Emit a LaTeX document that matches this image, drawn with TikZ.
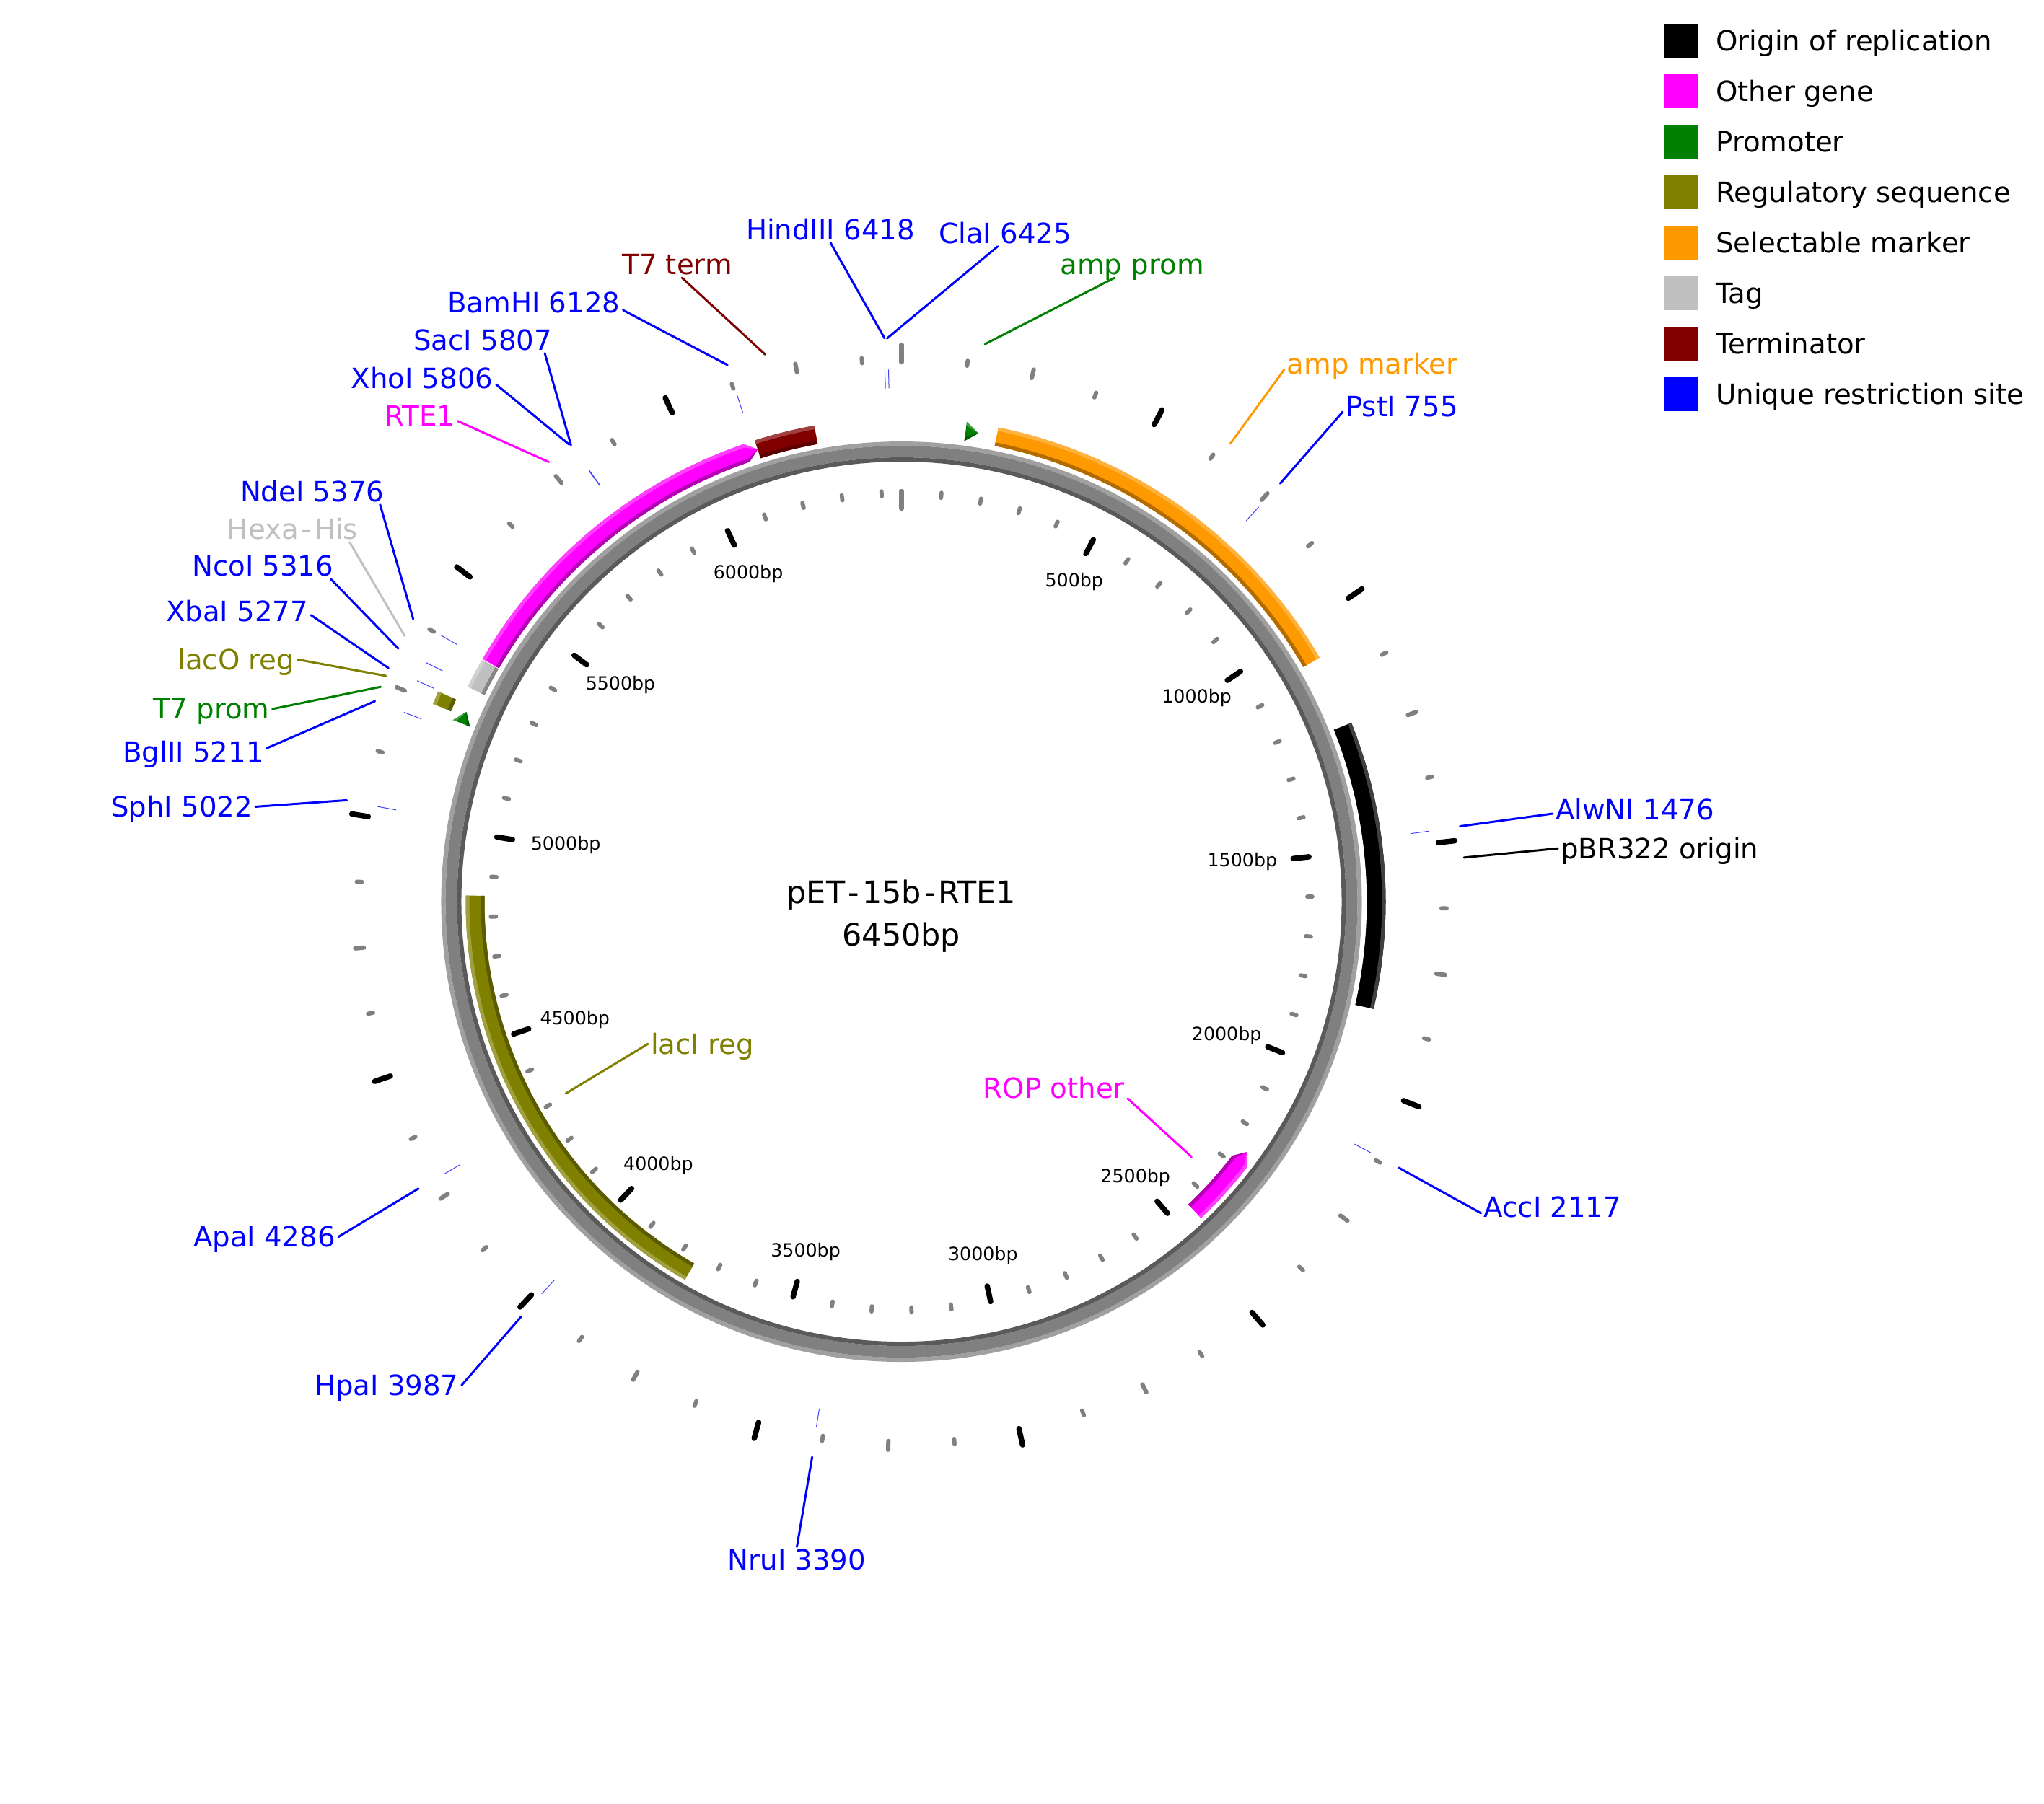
\documentclass[tikz,border=0pt]{standalone}
\usepackage{fontspec}
\setmainfont{DejaVu Sans}
\definecolor{promgreen}{HTML}{008000}
\definecolor{markorange}{HTML}{FF9900}
\definecolor{termred}{HTML}{800000}
\definecolor{taggray}{HTML}{C0C0C0}
\definecolor{ringgray}{HTML}{808080}
\definecolor{genemagenta}{HTML}{FF00FF}
\definecolor{regolive}{HTML}{808000}
\definecolor{siteblue}{HTML}{0000FF}

\newcommand{\bpangle}[2]{\pgfmathsetmacro#1{90-(#2)/6450*360}}
\newcommand{\feature}[6]{%
\bpangle{\angA}{#1}\bpangle{\angB}{#2}\bpangle{\angT}{#3}%
\pgfmathsetmacro\rmid{(#4+#5)/2}%
\fill[#6] (\angA:#5) arc[start angle=\angA,end angle=\angB,radius=#5] -- (\angT:\rmid) -- (\angB:#4) arc[start angle=\angB,end angle=\angA,radius=#4] -- cycle;
\fill[#6!75!white] (\angA:#5) arc[start angle=\angA,end angle=\angB,radius=#5] -- (\angT:\rmid) -- (\angB:#5-5) arc[start angle=\angB,end angle=\angA,radius=#5-5] -- cycle;
\fill[#6!70!black] (\angA:#4) arc[start angle=\angA,end angle=\angB,radius=#4] -- (\angT:\rmid) -- (\angB:#4+5) arc[start angle=\angB,end angle=\angA,radius=#4+5] -- cycle;
}

\begin{document}
\begin{tikzpicture}[x=.18068mm,y=-.18068mm,
lab/.style={inner sep=1pt,anchor=west,text height=8pt,text depth=0pt,font=\fontsize{11}{13}\selectfont},
ticklab/.style={inner sep=0pt,yshift=-.25mm,font=\fontsize{7.2}{9}\selectfont},
title/.style={inner sep=1pt,yshift=-.45mm,font=\fontsize{12.2}{15}\selectfont},
swatch/.style={inner sep=0pt,minimum size=4.7mm},
lead/.style={line width=.3mm,line cap=round},
sitemark/.style={line width=.1mm,siteblue!75!white},
shorttick/.style={line width=.58mm,line cap=round,ringgray},
midtick/.style={line width=.6mm,line cap=round,ringgray},
bigtick/.style={line width=.75mm,line cap=round,black}]

\useasboundingbox (0,0) rectangle (1567.96,1383.66);

\begin{scope}[shift={(691.55,691.85)},x=.1mm,y=.1mm]
\fill[ringgray!75!white,even odd rule] (0,0) circle[radius=638] circle[radius=632];
\fill[ringgray,even odd rule] (0,0) circle[radius=632] circle[radius=616];
\fill[ringgray!70!black,even odd rule] (0,0) circle[radius=616] circle[radius=610];

\foreach \k in {0,500,...,6000} \foreach \d in {100,200,300,400} {
  \bpangle{\tang}{\k+\d}
  \draw[shorttick] (\tang:562.5) -- (\tang:569.5);
}
\foreach \b in {500,1000,...,6000} {
  \bpangle{\tang}{\b}
  \draw[bigtick] (\tang:546) -- (\tang:568);
  \draw[bigtick] (\tang:748.5) -- (\tang:771.5);
}
\foreach \b in {125,375,...,6375} {
  \bpangle{\tang}{\b}
  \draw[shorttick] (\tang:748.5) -- (\tang:755.5);
}
\foreach \b in {250,750,...,6250} {
  \bpangle{\tang}{\b}
  \draw[midtick] (\tang:748) -- (\tang:760);
}
\draw[midtick,line width=.65mm] (90:545) -- (90:569);
\draw[midtick,line width=.65mm] (90:748) -- (90:772);

\foreach \b in {755,1476,2117,3390,3987,4286,5022,5211,5277,5316,5376,5806,5807,6128,6418,6425} {
  \bpangle{\tang}{\b}
  \draw[sitemark] (\tang:712) -- (\tang:738);
}

\feature{207}{1070}{1070}{645}{671}{markorange}
\feature{1224}{1842}{1842}{645}{671}{black}
\feature{2447}{2285}{2257}{578}{604}{genemagenta}
\feature{4852}{3759}{3759}{578}{604}{regolive}
\feature{5248}{5275}{5275}{678}{705}{regolive}
\feature{5310}{5375}{5375}{645}{671}{taggray}
\feature{5377}{6109}{6134}{645}{671}{genemagenta}
\feature{6134}{6264}{6264}{645}{671}{termred}
\feature{5233}{5232}{5260}{645}{671}{promgreen}
\feature{139}{140}{167}{645}{671}{promgreen}
\end{scope}

\foreach \b/\x/\y in {500/824/445,1000/918/534,1500/953/660,2000/941/793,2500/871/902,3000/754/962,3500/618/959,4000/505/893,4500/441/781,5000/434/647,5500/476/524,6000/574/439}
  \draw (\x,\y) node[ticklab] (tick\b) {\b bp};

\draw (691.5,684) node[title] (plasmidname) {pET\kern1.2pt-\kern1.2pt15b\kern1.2pt-\kern1.2ptRTE1};
\draw (691.5,717) node[title] (plasmidsize) {6450bp};

\foreach \i/\c/\t in {0/black/Origin of replication,1/genemagenta/Other gene,2/promgreen/Promoter,3/regolive/Regulatory sequence,4/markorange/Selectable marker,5/taggray/Tag,6/termred/Terminator,7/siteblue/Unique restriction site} {
  \pgfmathsetmacro\ky{31.4+38.7*\i}
  \draw (1290,\ky) node[swatch,fill=\c] (key\i) {};
  \draw (1314,\ky) node[lab] (keytext\i) {\t};
}

\draw (570,176) node[lab,siteblue] (HindIII) {HindIII 6418};
\draw (718,179) node[lab,siteblue] (ClaI) {ClaI 6425};
\draw (811,203) node[lab,promgreen] (ampprom) {amp prom};
\draw (475,203) node[lab,termred] (T7term) {T7 term};
\draw (341,232) node[lab,siteblue] (BamHI) {BamHI 6128};
\draw (315,261) node[lab,siteblue] (SacI) {SacI 5807};
\draw (267,290) node[lab,siteblue] (XhoI) {XhoI 5806};
\draw (293,319) node[lab,genemagenta] (RTE) {RTE1};
\draw (182,377) node[lab,siteblue] (NdeI) {NdeI 5376};
\draw (172,406) node[lab,taggray] (HexaHis) {Hexa\kern1.2pt-\kern1.2ptHis};
\draw (145,434) node[lab,siteblue] (NcoI) {NcoI 5316};
\draw (125,469) node[lab,siteblue] (XbaI) {XbaI 5277};
\draw (134,506) node[lab,regolive] (lacO) {lacO reg};
\draw (115,544) node[lab,promgreen] (T7prom) {T7 prom};
\draw (92,577) node[lab,siteblue] (BglII) {BglII 5211};
\draw (83,619) node[lab,siteblue] (SphI) {SphI 5022};
\draw (146,949) node[lab,siteblue] (ApaI) {ApaI 4286};
\draw (239,1063) node[lab,siteblue] (HpaI) {HpaI 3987};
\draw (556,1197) node[lab,siteblue] (NruI) {NruI 3390};
\draw (1136,926) node[lab,siteblue] (AccI) {AccI 2117};
\draw (1191,621) node[lab,siteblue] (AlwNI) {AlwNI 1476};
\draw (1195,651) node[lab] (pBR) {pBR322 origin};
\draw (1030,312) node[lab,siteblue] (PstI) {PstI 755};
\draw (985,279) node[lab,markorange] (ampmark) {amp marker};
\draw (497,801) node[lab,regolive] (lacI) {lacI reg};
\draw (752,835) node[lab,genemagenta] (ROP) {ROP other};

\coordinate (eHindIII) at (678.6,259.6);
\coordinate (eClaI) at (680.5,259.6);
\coordinate (eampprom) at (755.6,264);
\coordinate (eT7term) at (587,272);
\coordinate (eBamHI) at (558,280);
\coordinate (eSacI) at (438,341.6);
\coordinate (eXhoI) at (436.5,341);
\coordinate (eRTE) at (421,354.5);
\coordinate (eNdeI) at (317,475);
\coordinate (eHexaHis) at (310.5,488);
\coordinate (eNcoI) at (305.5,497.6);
\coordinate (eXbaI) at (298,512.6);
\coordinate (elacO) at (296,518.6);
\coordinate (eT7prom) at (292,527);
\coordinate (eBglII) at (287.6,538);
\coordinate (eSphI) at (266,614);
\coordinate (eApaI) at (321,912);
\coordinate (eHpaI) at (400,1010);
\coordinate (eNruI) at (623,1118);
\coordinate (eAccI) at (1073,896);
\coordinate (eAlwNI) at (1120,634);
\coordinate (epBR) at (1123,658);
\coordinate (ePstI) at (982,371);
\coordinate (eampmark) at (943.8,340.4);
\coordinate (elacI) at (434,839);
\coordinate (eROP) at (914,887.6);

\draw[lead,siteblue] (HindIII.-90) -- (eHindIII);
\draw[lead,siteblue] (ClaI.-120) -- (eClaI);
\draw[lead,promgreen] (ampprom.-143) -- (eampprom);
\draw[lead,termred] (T7term.-70) -- (eT7term);
\draw[lead,siteblue] (BamHI.-5) -- (eBamHI);
\draw[lead,siteblue] (SacI.-12) -- (eSacI);
\draw[lead,siteblue] (XhoI.-5) -- (eXhoI);
\draw[lead,genemagenta] (RTE.-8) -- (eRTE);
\draw[lead,siteblue] (NdeI.-11) -- (eNdeI);
\draw[lead,taggray] (HexaHis.-13) -- (eHexaHis);
\draw[lead,siteblue] (NcoI.-11) -- (eNcoI);
\draw[lead,siteblue] (XbaI.-3) -- (eXbaI);
\draw[lead,regolive] (lacO.0) -- (elacO);
\draw[lead,promgreen] (T7prom.0) -- (eT7prom);
\draw[lead,siteblue] (BglII.3) -- (eBglII);
\draw[lead,siteblue] (SphI.0) -- (eSphI);
\draw[lead,siteblue] (ApaI.0) -- (eApaI);
\draw[lead,siteblue] (HpaI.0) -- (eHpaI);
\draw[lead,siteblue] (NruI.90) -- (eNruI);
\draw[lead,siteblue] (AccI.185) -- (eAccI);
\draw[lead,siteblue] (AlwNI.183) -- (eAlwNI);
\draw[lead,black] (pBR.180) -- (epBR);
\draw[lead,siteblue] (PstI.185) -- (ePstI);
\draw[lead,markorange] (ampmark.184) -- (eampmark);
\draw[lead,regolive] (lacI.180) -- (elacI);
\draw[lead,genemagenta] (ROP.-8) -- (eROP);

\end{tikzpicture}
\end{document}
